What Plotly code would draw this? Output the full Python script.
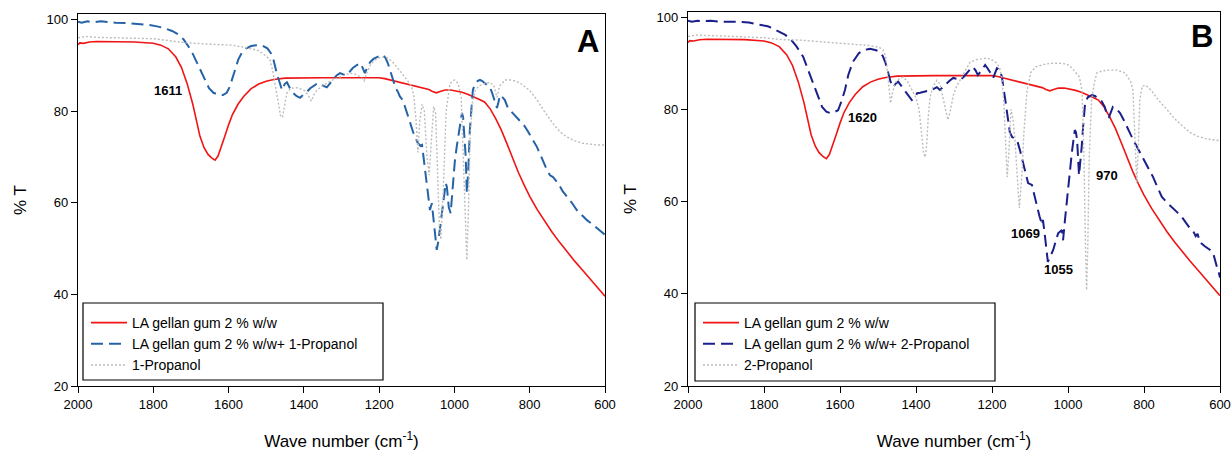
import plotly.graph_objects as go

# ---------------- data ----------------
x_ticks = [2000, 1800, 1600, 1400, 1200, 1000, 800, 600]
y_ticks = [20, 40, 60, 80, 100]

red_wn = [2000, 1995, 1985, 1970, 1950, 1900, 1850, 1800, 1780, 1760, 1740, 1725, 1710, 1695, 1685,
          1676, 1665, 1655, 1645, 1636, 1628, 1620, 1610, 1600, 1590, 1575, 1560, 1540, 1520, 1500,
          1480, 1450, 1400, 1350, 1300, 1250, 1200, 1185, 1170, 1155, 1140, 1125, 1110, 1095, 1080,
          1068, 1058, 1048, 1038, 1025, 1010, 995, 980, 965, 950, 935, 920, 905, 890, 875, 860, 845,
          830, 815, 800, 780, 760, 740, 720, 700, 680, 660, 640, 620, 600]
red_t = [94.5, 94.9, 94.8, 95.1, 95.2, 95.2, 95.1, 94.8, 94.4, 93.6, 91.8, 89.5, 86.0, 81.5, 78.0,
         74.5, 72.0, 70.6, 69.8, 69.3, 70.2, 72.0, 74.5, 77.0, 79.2, 81.5, 83.2, 84.9, 85.9, 86.5,
         86.9, 87.2, 87.3, 87.3, 87.3, 87.3, 87.3, 87.1, 86.8, 86.5, 86.2, 86.0, 85.6, 85.3, 85.0,
         84.7, 84.3, 84.0, 84.3, 84.6, 84.6, 84.4, 84.1, 83.7, 83.2, 82.6, 82.0, 80.5, 78.3, 75.8, 72.8, 69.6,
         66.6, 63.9, 61.4, 58.5, 55.9, 53.5, 51.3, 49.2, 47.2, 45.3, 43.4, 41.5, 39.6]

a_blue_wn = [2000, 1990, 1975, 1960, 1940, 1920, 1900, 1870, 1840, 1810, 1790, 1770, 1750, 1735, 1720,
             1708, 1695, 1684, 1673, 1663, 1652, 1640, 1628, 1615, 1605, 1597, 1590, 1582, 1574, 1565,
             1553, 1540, 1525, 1510, 1497, 1488, 1480, 1472, 1465, 1458, 1451, 1445, 1437, 1429, 1420,
             1410, 1400, 1392, 1383, 1376, 1367, 1357, 1348, 1339, 1330, 1323, 1313, 1304, 1295, 1286,
             1278, 1270, 1260, 1251, 1244, 1238, 1231, 1224, 1215, 1206, 1198, 1190, 1183, 1177, 1170,
             1163, 1156, 1150, 1145, 1137, 1128, 1118, 1108, 1097, 1090, 1086, 1082, 1078, 1070, 1065,
             1060, 1056, 1052, 1047, 1043, 1039, 1031, 1026, 1023, 1020, 1015, 1010, 1004, 999, 994,
             987, 980, 977, 973, 970, 967, 963, 959, 955, 951, 945, 938, 932, 925, 918, 912, 906, 900,
             893, 887, 883, 879, 872, 866, 858, 850, 842, 834, 822, 815, 807, 795, 781, 768, 754, 746,
             738, 725, 713, 701, 688, 675, 662, 648, 635, 622, 610, 600]
a_blue_t = [99.5, 99.3, 99.6, 99.4, 99.6, 99.4, 99.3, 99.2, 99.0, 98.8, 98.5, 98.1, 97.5, 96.8, 95.7,
            94.3, 92.5, 90.6, 88.4, 86.6, 85.0, 84.0, 83.6, 83.5, 84.0, 85.3, 87.0, 89.3, 91.3, 92.7,
            93.7, 94.2, 94.4, 94.3, 93.7, 92.7, 91.0, 88.3, 86.2, 84.6, 85.9, 86.3, 85.0, 84.0, 83.3,
            82.9, 83.7, 84.2, 85.0, 85.4, 85.9, 86.1, 85.5, 85.2, 86.0, 86.8, 87.8, 88.3, 88.0, 87.8,
            88.6, 89.4, 90.0, 90.5, 89.5, 88.3, 89.6, 90.7, 91.4, 91.8, 92.1, 92.3, 91.6, 90.5, 88.6,
            86.8, 85.0, 84.2, 83.2, 82.4, 80.2, 77.4, 75.0, 73.0, 72.4, 72.6, 70.0, 67.1, 61.3, 58.4,
            59.9, 56.5, 54.0, 49.7, 51.5, 54.0, 59.0, 62.5, 64.3, 63.4, 59.0, 57.7, 65.0, 69.0, 72.2,
            76.5, 79.6, 78.7, 74.0, 70.0, 62.1, 67.5, 75.9, 81.0, 84.6, 86.0, 86.6, 86.8, 86.5, 86.0, 85.6, 85.3, 84.0,
            82.0, 80.7, 82.0, 83.5, 83.0, 82.4, 80.7, 80.0, 79.3, 78.7, 77.5, 76.9, 75.9, 74.3, 72.2, 69.8, 67.1, 66.0,
            65.6, 64.3, 62.6, 61.3, 60.0, 58.4, 57.3, 56.2, 55.4, 54.5, 53.8, 53.0]

a_gray_wn = [2000, 1980, 1950, 1900, 1850, 1800, 1750, 1710, 1650, 1590, 1550, 1520, 1500, 1490, 1482,
             1475, 1468, 1462, 1457, 1452, 1445, 1435, 1418, 1400, 1389, 1380, 1372, 1365, 1345, 1323,
             1300, 1278, 1260, 1248, 1240, 1232, 1222, 1210, 1195, 1180, 1165, 1153, 1140, 1126, 1115,
             1108, 1102, 1097, 1092, 1086, 1080, 1073, 1067, 1061, 1055, 1050, 1046, 1040, 1036, 1030,
             1022, 1012, 1000, 990, 982, 976, 971, 967, 963, 958, 952, 945, 935, 920, 905, 895, 887,
             880, 865, 850, 835, 820, 800, 780, 760, 740, 720, 700, 680, 660, 640, 620, 600]
a_gray_t = [96.0, 96.3, 96.1, 96.0, 95.9, 95.8, 95.3, 94.9, 94.6, 94.4, 93.8, 93.2, 92.0, 91.2, 88.5,
            85.0, 81.5, 79.0, 78.6, 81.0, 84.0, 85.0, 85.1, 84.6, 83.5, 82.2, 83.8, 84.6, 85.8, 86.8,
            87.6, 88.3, 88.0, 87.3, 86.6, 88.5, 90.3, 91.2, 91.8, 91.7, 90.8, 89.7, 88.3, 86.8, 85.6,
            83.5, 78.0, 71.0, 78.0, 81.5, 80.0, 70.0, 66.0, 74.0, 81.0, 79.5, 70.0, 55.0, 52.0, 62.0,
            80.0, 86.0, 86.8, 86.0, 83.0, 70.0, 55.0, 47.5, 58.0, 75.0, 82.0, 84.5, 85.5, 86.0, 86.3, 85.5, 83.0,
            85.5, 86.8, 86.8, 86.5, 85.8, 84.5, 82.4, 79.8, 77.5, 75.5, 74.3, 73.5, 73.0, 72.8, 72.6, 72.6]

b_blue_wn = [2000, 1990, 1975, 1960, 1940, 1920, 1900, 1870, 1840, 1810, 1790, 1776, 1760, 1745, 1732,
             1715, 1697, 1684, 1671, 1659, 1647, 1636, 1626, 1615, 1605, 1595, 1587, 1578, 1566, 1550,
             1535, 1521, 1505, 1495, 1487, 1480, 1474, 1467, 1460, 1453, 1447, 1438, 1429, 1420, 1411,
             1404, 1397, 1389, 1381, 1370, 1358, 1345, 1337, 1328, 1318, 1310, 1302, 1293, 1284, 1275,
             1266, 1258, 1250, 1243, 1237, 1228, 1218, 1211, 1205, 1201, 1197, 1192, 1187, 1179, 1174,
             1166, 1160, 1153, 1147, 1140, 1134, 1126, 1118, 1111, 1105, 1095, 1088, 1082, 1075, 1068,
             1066, 1062, 1058, 1053, 1046, 1039, 1032, 1026, 1016, 1013, 1008, 1003, 996, 990, 985, 982,
             979, 976, 971, 967, 964, 960, 955, 948, 937, 929, 921, 912, 903, 897, 892, 887, 882, 872,
             863, 854, 845, 835, 824, 814, 803, 790, 776, 765, 753, 740, 726, 713, 700, 690, 679, 670,
             664, 659, 653, 640, 626, 618, 613, 608, 603, 600]
b_blue_t = [99.2, 99.0, 99.2, 99.1, 99.2, 99.0, 99.0, 99.0, 98.8, 98.4, 98.0, 97.5, 96.9, 96.2, 95.4,
            93.7, 91.4, 88.5, 85.6, 82.8, 80.5, 79.5, 79.2, 79.4, 79.8, 82.0, 84.2, 87.5, 90.3, 92.2,
            92.9, 93.1, 92.8, 92.4, 91.5, 90.0, 87.9, 86.0, 84.8, 85.6, 86.0, 85.0, 83.8, 82.8, 82.0,
            82.5, 83.5, 83.6, 83.7, 84.0, 84.2, 84.8, 84.2, 85.0, 85.7, 86.3, 86.8, 86.6, 86.3, 87.0,
            87.9, 88.6, 89.2, 88.4, 87.4, 88.5, 89.6, 88.8, 88.1, 87.5, 86.8, 88.0, 88.9, 88.5, 87.0,
            82.6, 79.2, 75.0, 74.0, 73.6, 73.3, 71.0, 68.3, 66.0, 64.0, 63.6, 61.0, 58.8, 56.8, 54.9,
            56.0, 53.5, 51.0, 46.9, 48.2, 49.5, 51.5, 53.1, 53.8, 51.6, 56.0, 60.3, 65.5, 70.5, 73.8, 75.5,
            75.0, 73.3, 65.7, 68.5, 71.8, 76.5, 81.3, 82.6, 83.1, 82.9, 82.4, 81.8, 80.5, 78.5, 78.3, 79.6, 80.5, 80.0,
            79.2, 77.8, 76.1, 74.5, 72.7, 71.2, 69.6, 67.5, 65.3, 63.2, 61.0, 59.8, 58.8, 57.7, 56.6, 55.5, 54.2, 53.5,
            52.5, 53.0, 51.2, 50.3, 49.5, 48.8, 47.0, 45.8, 44.5, 43.5]

b_gray_wn = [2000, 1980, 1950, 1900, 1850, 1800, 1750, 1705, 1650, 1600, 1550, 1529, 1500, 1487, 1480,
             1475, 1470, 1467, 1462, 1455, 1445, 1434, 1422, 1411, 1400, 1392, 1385, 1380, 1376, 1372,
             1368, 1363, 1355, 1345, 1337, 1329, 1322, 1316, 1310, 1302, 1293, 1284, 1270, 1258, 1240,
             1213, 1200, 1187, 1180, 1174, 1168, 1163, 1160, 1156, 1150, 1145, 1140, 1134, 1128, 1122,
             1116, 1108, 1098, 1085, 1060, 1040, 1021, 1003, 990, 980, 970, 963, 958, 954, 951, 948, 944,
             938, 930, 924, 910, 895, 871, 850, 835, 829, 824, 819, 815, 811, 805, 795, 780, 760, 740,
             720, 700, 680, 660, 640, 620, 600]
b_gray_t = [95.8, 96.1, 96.0, 95.9, 95.7, 95.5, 95.1, 95.0, 94.6, 94.3, 94.0, 93.9, 93.5, 93.0, 91.5,
            88.0, 83.0, 81.3, 83.5, 85.7, 86.6, 87.0, 86.0, 84.2, 82.5, 80.0, 75.0, 70.5, 69.6, 72.0,
            78.0, 82.6, 85.0, 86.3, 85.5, 82.6, 79.5, 77.7, 79.5, 83.0, 85.0, 86.3, 88.5, 90.2, 90.8,
            91.1, 90.7, 90.0, 89.0, 87.0, 80.0, 70.0, 65.3, 70.0, 80.0, 78.0, 74.0, 66.0, 58.6, 65.0,
            75.0, 84.0, 88.0, 89.2, 89.8, 90.0, 90.0, 89.8, 89.0, 88.0, 87.0, 84.0, 70.0, 50.0, 40.8, 50.0, 70.0,
            82.0, 86.0, 87.9, 88.3, 88.5, 88.5, 87.9, 86.0, 84.0, 72.0, 64.0, 72.0, 82.0, 85.0, 85.2, 84.0, 81.8, 80.0,
            78.0, 76.5, 75.0, 74.2, 73.7, 73.4, 73.2]

name_red = "LA gellan gum 2 % w/w"
name_a_blue = "LA gellan gum 2 % w/w+ 1-Propanol"
name_a_gray = "1-Propanol"
name_b_blue = "LA gellan gum 2 % w/w+ 2-Propanol"
name_b_gray = "2-Propanol"

# ---------------- styles ----------------
W, H = 1231, 453
FONT = "Liberation Sans, Arial, sans-serif"
RED = "#f01414"
BLUE_A = "#2563a6"
BLUE_B = "#1a1f8a"
GRAY = "#bcbcbc"
GRAY_DASH = "2px,2px"

def px_x(p):
    return p / W

def px_y(p):
    return (H - p) / H

fig = go.Figure()

# Panel A
fig.add_trace(go.Scatter(x=red_wn, y=red_t, name=name_red, mode="lines",
                         line=dict(color=RED, width=1.6), xaxis="x", yaxis="y", legend="legend"))
fig.add_trace(go.Scatter(x=a_blue_wn, y=a_blue_t, name=name_a_blue, mode="lines",
                         line=dict(color=BLUE_A, width=2, dash="12px,6px"), xaxis="x", yaxis="y", legend="legend"))
fig.add_trace(go.Scatter(x=a_gray_wn, y=a_gray_t, name=name_a_gray, mode="lines",
                         line=dict(color=GRAY, width=1.4, dash=GRAY_DASH), xaxis="x", yaxis="y", legend="legend"))
# Panel B
fig.add_trace(go.Scatter(x=red_wn, y=red_t, name=name_red, mode="lines",
                         line=dict(color=RED, width=1.6), xaxis="x2", yaxis="y2", legend="legend2"))
fig.add_trace(go.Scatter(x=b_blue_wn, y=b_blue_t, name=name_b_blue, mode="lines",
                         line=dict(color=BLUE_B, width=2, dash="12px,6px"), xaxis="x2", yaxis="y2", legend="legend2"))
fig.add_trace(go.Scatter(x=b_gray_wn, y=b_gray_t, name=name_b_gray, mode="lines",
                         line=dict(color=GRAY, width=1.4, dash=GRAY_DASH), xaxis="x2", yaxis="y2", legend="legend2"))

xcommon = dict(range=[2000, 600], tickvals=x_ticks, showline=True, linecolor="black", linewidth=1.2,
               mirror=True, ticks="outside", ticklen=6, tickcolor="black", tickwidth=1.2, automargin=False,
               showgrid=False, zeroline=False, tickfont=dict(family=FONT, size=13, color="black"),
               title=dict(text="Wave number (cm<sup>-1</sup>)", font=dict(family=FONT, size=17, color="black"),
                          standoff=24))
ycommon = dict(tickvals=y_ticks, showline=True, linecolor="black", linewidth=1.2, automargin=False,
               mirror=True, ticks="outside", ticklen=6, tickcolor="black", tickwidth=1.2,
               showgrid=False, zeroline=False, tickfont=dict(family=FONT, size=13, color="black"),
               title=dict(text="% T", font=dict(family=FONT, size=17, color="black"), standoff=15))

legend_common = dict(xanchor="left", yanchor="top", bgcolor="rgba(0,0,0,0)", borderwidth=0,
                     itemwidth=36, tracegroupgap=0, font=dict(family=FONT, size=14, color="black"))

fig.update_layout(
    width=W, height=H, autosize=False,
    margin=dict(l=0, r=0, t=0, b=0, autoexpand=False),
    paper_bgcolor="white", plot_bgcolor="white",
    font=dict(family=FONT, color="black"),
    xaxis=dict(domain=[px_x(78), px_x(605)], anchor="y", **xcommon),
    yaxis=dict(domain=[px_y(386), px_y(14)], range=[20, 101.2], anchor="x", **ycommon),
    xaxis2=dict(domain=[px_x(688), px_x(1220)], anchor="y2", **xcommon),
    yaxis2=dict(domain=[px_y(386), px_y(12)], range=[20, 101.1], anchor="x2", **ycommon),
    legend=dict(x=px_x(86), y=px_y(307), **legend_common),
    legend2=dict(x=px_x(698), y=px_y(307), **legend_common),
    shapes=[
        dict(type="rect", xref="paper", yref="paper", x0=px_x(83), x1=px_x(383), y0=px_y(380), y1=px_y(303),
             line=dict(color="black", width=1.2), fillcolor="white", layer="below"),
        dict(type="rect", xref="paper", yref="paper", x0=px_x(695), x1=px_x(995), y0=px_y(381), y1=px_y(303),
             line=dict(color="black", width=1.2), fillcolor="white", layer="below"),
    ],
)

ann_font = dict(family=FONT, size=13, color="black")
annotations = [
    dict(x=1761, y=84.6, xref="x", yref="y", text="<b>1611</b>", showarrow=False, font=ann_font),
    dict(x=1540, y=78.3, xref="x2", yref="y2", text="<b>1620</b>", showarrow=False, font=ann_font),
    dict(x=1113, y=53.1, xref="x2", yref="y2", text="<b>1069</b>", showarrow=False, font=ann_font),
    dict(x=1026, y=45.3, xref="x2", yref="y2", text="<b>1055</b>", showarrow=False, font=ann_font),
    dict(x=897, y=65.7, xref="x2", yref="y2", text="<b>970</b>", showarrow=False, font=ann_font),
    dict(x=px_x(588), y=px_y(41), xref="paper", yref="paper", text="<b>A</b>", showarrow=False,
         xanchor="center", yanchor="middle", font=dict(family=FONT, size=31, color="black")),
    dict(x=px_x(1202), y=px_y(37), xref="paper", yref="paper", text="<b>B</b>", showarrow=False,
         xanchor="center", yanchor="middle", font=dict(family=FONT, size=31, color="black")),
]
fig.update_layout(annotations=annotations)

# remove the default 8px page margin so the figure sits at the window's top-left corner
fig.write_html("out.html", config={"displayModeBar": False},
               post_script="document.body.style.margin='0px';")
